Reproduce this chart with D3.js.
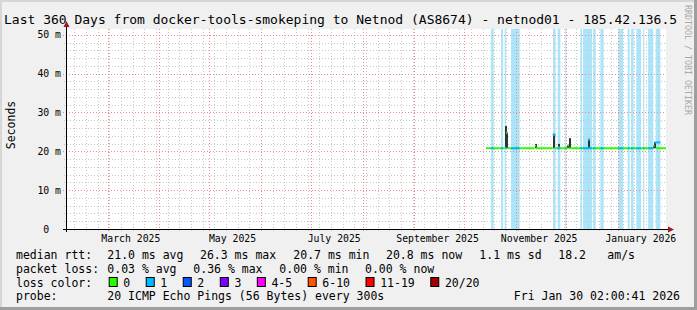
<!DOCTYPE html>
<html>
<head>
<meta charset="utf-8">
<script src="https://cdn.jsdelivr.net/npm/d3@7"></script>
<style>
  body { margin: 0; background: #f0f0f0; }
  text { font-family: "DejaVu Sans Mono", monospace; fill: #000; }
</style>
</head>
<body>
<div id="viz"></div>
<script>
// chart text
const title = 'Last 360 Days from docker-tools-smokeping to Netnod (AS8674) - netnod01 - 185.42.136.5'
const yLabel = 'Seconds'
const watermark = 'RRDTOOL / TOBI OETIKER'
const graphEnd = new Date('2026-01-30T02:00:41Z')
const graphDays = 360
const yMaxMs = 51.5
const yTicksMs = [0, 10, 20, 30, 40, 50]
const yTickLabels = ['0  ', '10 m', '20 m', '30 m', '40 m', '50 m']
const monthLabels = ['March 2025', 'May 2025', 'July 2025', 'September 2025', 'November 2025', 'January 2026']
const monthLabelDates = ['2025-03-15', '2025-05-15', '2025-07-15', '2025-09-15', '2025-11-15', '2026-01-15']

// rtt records (ms) - each lasts until the next one
const rttTimes  = ['2025-10-14T02:00', '2025-10-25T06:00', '2025-10-26T04:00', '2025-10-27T02:00',
                   '2025-11-12T06:00', '2025-11-13T04:00', '2025-11-23T02:00', '2025-11-24T02:00',
                   '2025-11-26T08:00', '2025-11-27T08:00', '2025-12-01T20:00', '2025-12-02T20:00',
                   '2025-12-03T20:00', '2025-12-14T08:00', '2025-12-15T08:00', '2026-01-22T10:00',
                   '2026-01-23T04:00', '2026-01-24T02:00']
const rttMedian = [20.8, 20.9, 24.8, 20.8, 21.4, 20.8, 24.3, 20.8, 20.8, 20.8, 21.5, 20.8, 20.8, 23.0, 20.8, 21.4, 22.3, 20.8]
const rttMin    = [20.8, 20.8, 20.8, 20.8, 20.8, 20.8, 20.8, 20.8, 21.2, 20.8, 20.8, 20.8, 20.8, 20.8, 20.8, 20.8, 20.8, 20.8]
const rttMax    = [20.8, 26.5, 24.9, 20.8, 21.9, 20.8, 24.5, 20.8, 21.9, 20.8, 21.6, 23.4, 20.8, 23.2, 20.8, 21.4, 22.4, 20.8]
const rttLoss   = [0, 0, 0, 0, 0, 0, 1, 0, 0, 0, 0, 0, 0, 1, 0, 0, 1, 0]

// periods with 1/20 loss
const lossStart = ['2025-10-17T03:00', '2025-10-23T03:00', '2025-10-25T07:00', '2025-10-29T03:00',
                   '2025-11-23T08:00', '2025-11-26T02:00', '2025-11-30T17:00', '2025-12-09T17:00',
                   '2025-12-11T08:00', '2025-12-17T08:00', '2025-12-21T17:00', '2026-01-01T12:00',
                   '2026-01-07T02:00', '2026-01-09T03:00', '2026-01-12T07:00', '2026-01-16T08:00',
                   '2026-01-19T08:00', '2026-01-23T21:00']
const lossEnd   = ['2025-10-18T16:00', '2025-10-24T08:00', '2025-10-26T03:00', '2025-11-03T07:00',
                   '2025-11-24T21:00', '2025-11-27T17:00', '2025-12-01T07:00', '2025-12-10T17:00',
                   '2025-12-16T17:00', '2025-12-18T21:00', '2025-12-23T16:00', '2026-01-04T08:00',
                   '2026-01-08T07:00', '2026-01-10T16:00', '2026-01-15T03:00', '2026-01-17T02:00',
                   '2026-01-22T12:00', '2026-01-26T17:00']

// legend
const rttLegend = ['median rtt:', '21.0 ms avg', '26.3 ms max', '20.7 ms min', '20.8 ms now', '1.1 ms sd', '18.2', 'am/s']
const lossLegend = ['packet loss:', '0.03 % avg', '0.36 % max', '0.00 % min', '0.00 % now']
const lossColorLabels = ['0', '1', '2', '3', '4-5', '6-10', '11-19', '20/20']
const lossColors = ['#26ff00', '#00b8ff', '#0059ff', '#7e00ff', '#ff00ff', '#ff5500', '#ff0000', '#a10000']
const probeLegend = ['probe:', '20 ICMP Echo Pings (56 Bytes) every 300s', 'Fri Jan 30 02:00:41 2026']

let width = 697,
    height = 310

const parse = s => new Date(s + (s.length > 10 ? ':00Z' : 'T00:00:00Z'))
const graphStart = d3.utcDay.offset(graphEnd, -graphDays)

let xScale = d3.scaleUtc()
               .domain([graphStart, graphEnd])
               .range([66, 666])

let yScale = d3.scaleLinear()
               .domain([0, yMaxMs])
               .range([229, 29])

const px = v => Math.round(v) + 0.5

let svg = d3.select('#viz')
            .append('svg')
            .attr('width', width)
            .attr('height', height)
            .style('display', 'block')

// background + frame
svg.append('rect').attr('width', width).attr('height', height).style('fill', '#f0f0f0')
svg.append('rect').attr('x', 0).attr('y', 0).attr('width', width).attr('height', 2).style('fill', '#d6d6d6')
svg.append('rect').attr('x', 0).attr('y', 0).attr('width', 2).attr('height', height).style('fill', '#d6d6d6')
svg.append('rect').attr('x', 0).attr('y', height - 3).attr('width', width).attr('height', 3).style('fill', '#9e9e9e')
svg.append('rect').attr('x', width - 3).attr('y', 0).attr('width', 3).attr('height', height).style('fill', '#9e9e9e')

// canvas
svg.append('rect')
   .attr('x', xScale.range()[0]).attr('y', yScale.range()[1])
   .attr('width', xScale.range()[1] - xScale.range()[0])
   .attr('height', yScale.range()[0] - yScale.range()[1])
   .style('fill', '#fff')

// loss background bars
svg.selectAll('rect.lossbg')
   .data(lossStart.map((s, i) => ({ s: parse(s), e: parse(lossEnd[i]) })))
   .enter()
   .append('rect')
   .attr('class', 'lossbg')
   .attr('x', d => xScale(d.s))
   .attr('width', d => Math.max(1, xScale(d.e) - xScale(d.s)))
   .attr('y', yScale(yMaxMs))
   .attr('height', yScale(0) - yScale(yMaxMs))
   .style('fill', '#abe5f9')

// grid
const minorY = d3.range(2, yMaxMs, 2).filter(v => v % 10 !== 0)
const majorY = yTicksMs.filter(v => v > 0)
const weeks = d3.utcSunday.range(graphStart, graphEnd)
const months = d3.utcMonth.range(graphStart, graphEnd)
const x0 = xScale.range()[0], x1 = xScale.range()[1]
const y0 = yScale.range()[0], y1 = yScale.range()[1]

let grid = svg.append('g').style('shape-rendering', 'crispEdges')
grid.selectAll('line.wk').data(weeks).enter().append('line')
    .attr('x1', d => px(xScale(d))).attr('x2', d => px(xScale(d)))
    .attr('y1', y1).attr('y2', y0 + 2)
    .style('stroke', '#c8c8c8').style('stroke-dasharray', '1,2')
grid.selectAll('line.mnY').data(minorY).enter().append('line')
    .attr('x1', x0 - 2).attr('x2', x1)
    .attr('y1', d => px(yScale(d))).attr('y2', d => px(yScale(d)))
    .style('stroke', '#c8c8c8').style('stroke-dasharray', '1,2')
grid.selectAll('line.mo').data(months).enter().append('line')
    .attr('x1', d => px(xScale(d))).attr('x2', d => px(xScale(d)))
    .attr('y1', y1).attr('y2', y0 + 3)
    .style('stroke', '#ee8c8c').style('stroke-dasharray', '1,2')
grid.selectAll('line.mjY').data(majorY).enter().append('line')
    .attr('x1', x0 - 3).attr('x2', x1)
    .attr('y1', d => px(yScale(d))).attr('y2', d => px(yScale(d)))
    .style('stroke', '#ee8c8c').style('stroke-dasharray', '1,2')

// rtt records
const recs = rttTimes.map((t, i) => ({
  s: parse(t),
  e: i < rttTimes.length - 1 ? parse(rttTimes[i + 1]) : graphEnd,
  med: rttMedian[i], lo: rttMin[i], hi: rttMax[i], loss: rttLoss[i]
}))

// smoke
svg.selectAll('rect.smoke')
   .data(recs.filter(d => d.hi - d.lo > 0.05))
   .enter()
   .append('rect')
   .attr('class', 'smoke')
   .attr('x', d => Math.round(xScale(d.s)))
   .attr('width', d => Math.max(1, Math.round(xScale(d.e) - xScale(d.s))))
   .attr('y', d => yScale(d.hi))
   .attr('height', d => yScale(d.lo) - yScale(d.hi))
   .style('fill', '#333')

// median line
svg.selectAll('line.med')
   .data(recs)
   .enter()
   .append('line')
   .attr('x1', d => xScale(d.s)).attr('x2', d => xScale(d.e))
   .attr('y1', d => yScale(d.med)).attr('y2', d => yScale(d.med))
   .style('stroke', d => lossColors[d.loss])
   .style('stroke-width', 2)

const medianAt = t => {
  let r = recs[0]
  recs.forEach(d => { if (d.s <= t) r = d })
  return r.med
}
svg.selectAll('line.lossmed')
   .data(lossStart.map((s, i) => ({ s: parse(s), e: parse(lossEnd[i]) })))
   .enter()
   .append('line')
   .attr('x1', d => xScale(d.s)).attr('x2', d => xScale(d.e))
   .attr('y1', d => yScale(medianAt(d.s))).attr('y2', d => yScale(medianAt(d.s)))
   .style('stroke', lossColors[1])
   .style('stroke-width', 2)

// axes
svg.append('line').attr('x1', x0 - 3).attr('x2', x1 + 3).attr('y1', px(y0)).attr('y2', px(y0))
   .style('stroke', '#000').style('shape-rendering', 'crispEdges')
svg.append('line').attr('x1', px(x0)).attr('x2', px(x0)).attr('y1', y0 + 3).attr('y2', y1 - 3)
   .style('stroke', '#000').style('shape-rendering', 'crispEdges')
svg.append('path').attr('d', `M${px(x0)},${y1 - 8} L${px(x0) - 3},${y1 - 2} L${px(x0) + 3},${y1 - 2} Z`)
   .style('fill', '#9b1b1b')
svg.append('path').attr('d', `M${x1 + 8},${px(y0)} L${x1 + 2},${px(y0) - 3} L${x1 + 2},${px(y0) + 3} Z`)
   .style('fill', '#9b1b1b')

// y labels
svg.selectAll('text.ytick')
   .data(yTicksMs)
   .enter()
   .append('text')
   .attr('x', 61)
   .attr('y', d => yScale(d) + 3.6)
   .attr('text-anchor', 'end')
   .style('font-size', '9.8px')
   .style('white-space', 'pre')
   .text((d, i) => yTickLabels[i])

// x labels
svg.selectAll('text.xtick')
   .data(monthLabels)
   .enter()
   .append('text')
   .attr('x', (d, i) => xScale(parse(monthLabelDates[i])))
   .attr('y', 241.5)
   .attr('text-anchor', 'middle')
   .style('font-size', '9.8px')
   .text(d => d)

// title, axis title, watermark
svg.append('text').attr('x', 4).attr('y', 23.5).style('font-size', '13px').text(title)
svg.append('text').attr('transform', 'translate(14.5,125) rotate(-90)')
   .attr('text-anchor', 'middle').style('font-size', '11.5px').text(yLabel)
svg.append('text').attr('transform', 'translate(684.5,5) rotate(90)')
   .style('font-size', '8.3px').style('fill', '#a8a8a8').text(watermark)

// legend
const lg = svg.append('g').style('font-size', '11.5px').style('white-space', 'pre')
const rttX = [16, 107.3, 200, 293.3, 386, 479.3, 558.3, 607.3]
lg.selectAll('text.rtt').data(rttLegend).enter().append('text')
  .attr('x', (d, i) => rttX[i]).attr('y', 258.5).text(d => d)
const lossX = [16, 107.3, 193.3, 279.3, 365]
lg.selectAll('text.pl').data(lossLegend).enter().append('text')
  .attr('x', (d, i) => lossX[i]).attr('y', 272.5).text(d => d)
lg.append('text').attr('x', 16).attr('y', 286.5).text('loss color:')

const cw = 6.93
let bx = 108.7
const swatches = lossColorLabels.map((lab, i) => {
  const s = { lab, col: lossColors[i], x: bx }
  bx += 14.6 + lab.length * cw + 15.5
  return s
})
lg.selectAll('rect.sw').data(swatches).enter().append('rect')
  .attr('x', d => d.x + 0.5).attr('y', 277.5).attr('width', 8).attr('height', 9)
  .style('fill', d => d.col).style('stroke', '#000').style('stroke-width', 1)
lg.selectAll('text.sw').data(swatches).enter().append('text')
  .attr('x', d => d.x + 14.6).attr('y', 286.5).text(d => d.lab)

lg.append('text').attr('x', 16).attr('y', 300).text(probeLegend[0])
lg.append('text').attr('x', 107.3).attr('y', 300).text(probeLegend[1])
lg.append('text').attr('x', 680).attr('y', 300).attr('text-anchor', 'end').text(probeLegend[2])
</script>
</body>
</html>
